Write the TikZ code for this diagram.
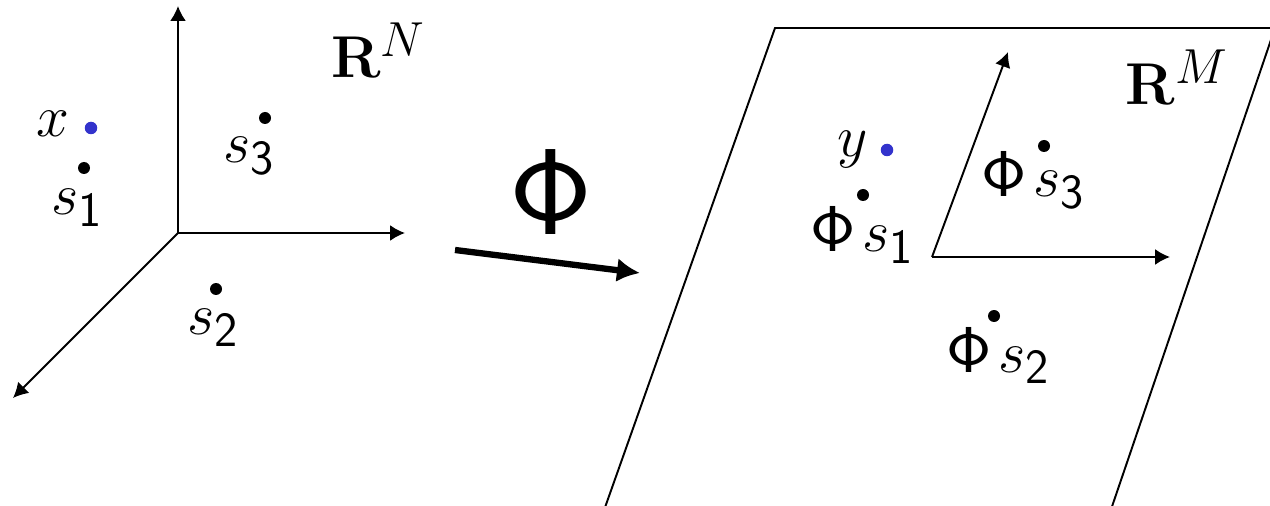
\documentclass[tikz,border=0pt]{standalone}
\usetikzlibrary{arrows.meta,positioning}
\definecolor{ptblue}{RGB}{51,51,204}
\newcommand{\bigphi}{\scalebox{1.13}[1.1]{$\mathsf{\Phi}$}}

\begin{document}
\begin{tikzpicture}[x=0.02cm, y=-0.02cm,
            dot/.style={circle, fill=black, inner sep=0pt, minimum size=0.24cm},
            bluedot/.style={circle, fill=ptblue, inner sep=0pt, minimum size=0.25cm},
            lbl/.style={inner sep=0pt, anchor=base west, font=\Huge, scale=1.35},
            axis/.style={-{Latex[length=0.3cm, width=0.32cm]}, line width=1.1pt},
            maparrow/.style={-{Latex[length=0.46cm, width=0.48cm]}, line width=3.6pt}
        ]
            \useasboundingbox (0,0) rectangle (1270,506);
            \clip (0,0) rectangle (1270,506);

            % Input space axes
            \coordinate (o1) at (178,233);
            \coordinate (up1) at (178,6);
            \coordinate (rt1) at (405,233);
            \coordinate (dg1) at (13,398);
            \draw[axis] (o1) -- (up1);
            \draw[axis] (o1) -- (rt1);
            \draw[axis] (o1) -- (dg1);

            \node[bluedot] (px) at (91,128) {};
            \node[dot] (ps1) at (84,168) {};
            \node[dot] (ps3) at (265,118) {};
            \node[dot] (ps2) at (216,289) {};

            \node[lbl] (lx) at (36,137) {$x$};
            \node[lbl] (ls1) at (51,215) {$s_{\mathsf{1}}$};
            \node[lbl] (ls3) at (223,163) {$s_{\mathsf{3}}$};
            \node[lbl] (ls2) at (187,335) {$s_{\mathsf{2}}$};
            \node[lbl] (rn) at (331,78) {$\mathbf{R}^N$};

            % The map
            \coordinate (mfrom) at (455,250);
            \coordinate (mto) at (640,273);
            \draw[maparrow] (mfrom) -- (mto);
            \node[inner sep=0pt, font=\Huge, scale=2.8] (phi) at (551,192) {$\mathsf{\Phi}$};

            % Feature space plane
            \draw[line width=1.1pt] (597,530) -- (775,28) -- (1275,28) -- (1104,530);

            \coordinate (o2) at (932,257);
            \coordinate (up2) at (1008,52);
            \coordinate (rt2) at (1170,257);
            \draw[axis] (o2) -- (up2);
            \draw[axis] (o2) -- (rt2);

            \node[bluedot] (py) at (887,150) {};
            \node[dot] (pf1) at (863,195) {};
            \node[dot] (pf3) at (1044,146) {};
            \node[dot] (pf2) at (994,316) {};

            \node[lbl] (ly) at (837,157) {$y$};
            \node[lbl] (lf1) at (810,252) {$\bigphi\mkern2mu s_{\mathsf{1}}$};
            \node[lbl] (lf3) at (981,197) {$\bigphi\mkern2mu s_{\mathsf{3}}$};
            \node[lbl] (lf2) at (946,372) {$\bigphi\mkern2mu s_{\mathsf{2}}$};
            \node[lbl] (rm) at (1125,105) {$\mathbf{R}^M$};
        \end{tikzpicture}
\end{document}
